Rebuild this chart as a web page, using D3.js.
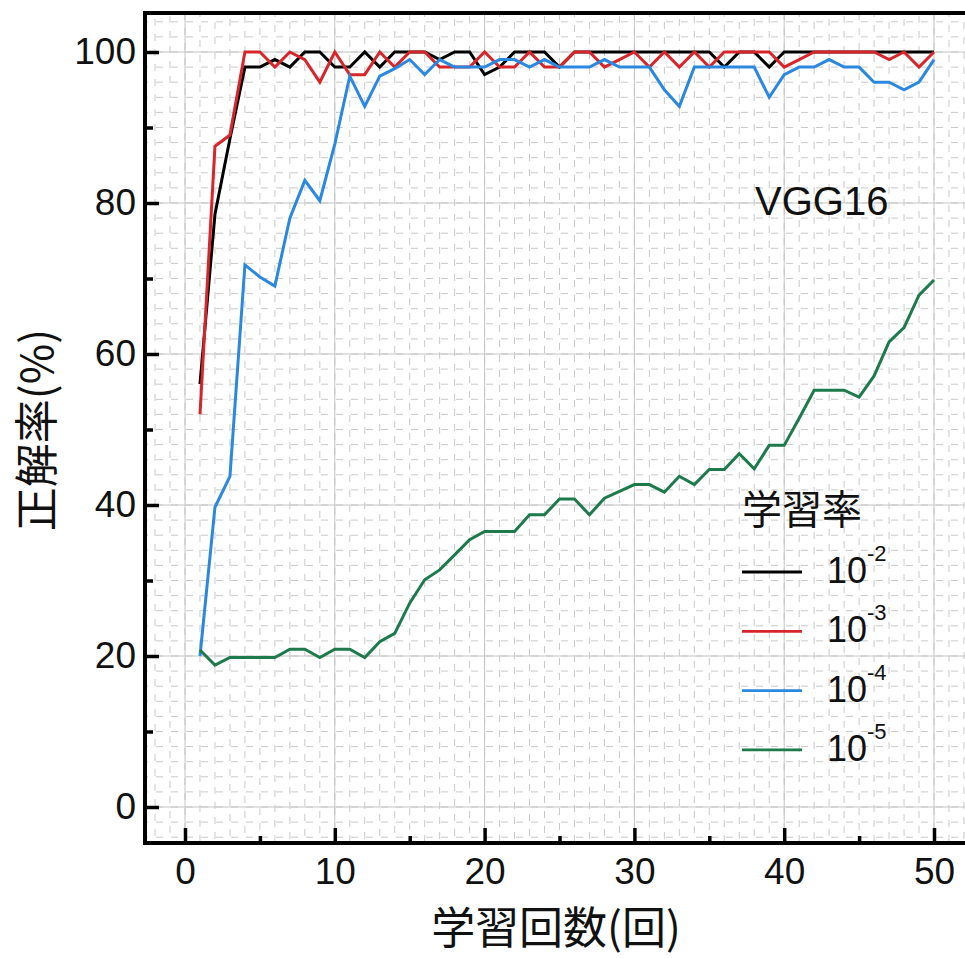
<!DOCTYPE html>
<html>
<head>
<meta charset="utf-8">
<script src="https://cdn.jsdelivr.net/npm/d3@7"></script>
<style>
  body { margin: 0; background: #fff; }
  svg { display: block; }
  .lat { font-family: "Liberation Sans", Arial, sans-serif; }
  .cjk { font-family: "Noto Sans CJK JP", "Noto Sans", sans-serif; }
</style>
</head>
<body>
<svg id="chart" width="965" height="958"></svg>
<script>
// epochs (学習回数)
const epochs = [1,2,3,4,5,6,7,8,9,10,11,12,13,14,15,16,17,18,19,20,21,22,23,24,25,
  26,27,28,29,30,31,32,33,34,35,36,37,38,39,40,41,42,43,44,45,46,47,48,49,50]

// accuracy (%) per learning rate
const lr2 = [56,78.5,88.5,98,98,99,98,100,100,98,98,100,98,100,100,100,99,100,100,97,
  98,100,100,100,98,100,100,100,100,100,100,100,100,100,100,98,100,100,98,100,
  100,100,100,100,100,100,100,100,100,100]
const lr3 = [52,87.5,89,100,100,98,100,99,96,100,97,97,100,98,100,100,98,98,98,100,
  98,98,100,98,98,100,100,98,99,100,98,100,98,100,98,100,100,100,100,98,
  99,100,100,100,100,100,99,100,98,100]
const lr4 = [20,39.7,43.8,71.8,70.2,69,78,83,80.3,87.8,96.8,92.8,96.8,97.8,99,97,99,98,98,98,
  99,99,98,99,98,98,98,99,98,98,98,95,92.8,98,98,98,98,98,94,97,
  98,98,99,98,98,96,96,95,96,99]
const lr5 = [20.8,18.8,19.8,19.8,19.8,19.8,20.9,20.9,19.8,20.9,20.9,19.8,21.9,23,27,30.1,31.4,33.4,35.4,36.5,
  36.5,36.5,38.7,38.7,40.8,40.8,38.7,40.9,41.8,42.7,42.7,41.7,43.8,42.7,44.7,44.7,46.8,44.8,47.9,47.9,
  51.5,55.2,55.2,55.2,54.3,57.1,61.6,63.5,67.8,69.8]

const seriesNames = ["-2", "-3", "-4", "-5"]
const seriesColors = ["#000000", "#d7262b", "#2b88e0", "#1d7a4b"]

const xTicks = [0, 10, 20, 30, 40, 50]
const xMinorTicks = [5, 15, 25, 35, 45]
const yTicks = [0, 20, 40, 60, 80, 100]
const yMinorTicks = [10, 30, 50, 70, 90]

const svg = d3.select("#chart")

// plot frame edges
const frameL = 145, frameT = 13, frameB = 843, frameR = 965

const x = d3.scaleLinear().domain([0, 50]).range([185, 934])
const y = d3.scaleLinear().domain([0, 100]).range([807, 52])

// dashed minor grid
const grid = svg.append("g")
grid.selectAll(".gx")
  .data(d3.range(-2, 53))
  .enter()
  .append("line")
  .attr("x1", (d) => x(d)).attr("x2", (d) => x(d))
  .attr("y1", frameT).attr("y2", frameB)
  .attr("stroke", "#c9c9c9")
  .attr("stroke-width", 1)
  .attr("stroke-dasharray", "7,8")
  .attr("stroke-dashoffset", (d) => (d * 3) % 15)
grid.selectAll(".gy")
  .data(d3.range(-4, 106, 2))
  .enter()
  .append("line")
  .attr("x1", frameL).attr("x2", frameR)
  .attr("y1", (d) => y(d)).attr("y2", (d) => y(d))
  .attr("stroke", "#c9c9c9")
  .attr("stroke-width", 1)
  .attr("stroke-dasharray", "7,8")
  .attr("stroke-dashoffset", 4)

// solid major grid
grid.selectAll(".mx")
  .data(xTicks)
  .enter()
  .append("line")
  .attr("x1", (d) => x(d)).attr("x2", (d) => x(d))
  .attr("y1", frameT).attr("y2", frameB)
  .attr("stroke", "#c4c4c4")
grid.selectAll(".my")
  .data(yTicks)
  .enter()
  .append("line")
  .attr("x1", frameL).attr("x2", frameR)
  .attr("y1", (d) => y(d)).attr("y2", (d) => y(d))
  .attr("stroke", "#c4c4c4")

// data lines
const line = d3.line()
  .x((d, i) => x(epochs[i]))
  .y((d) => y(d))

const allSeries = [lr2, lr3, lr4, lr5]
svg.append("g")
  .selectAll("path")
  .data(allSeries)
  .enter()
  .append("path")
  .attr("d", (d) => line(d))
  .attr("fill", "none")
  .attr("stroke", (d, i) => seriesColors[i])
  .attr("stroke-width", 3)
  .attr("stroke-linejoin", "miter")

// axes (ticks inward)
const yAxis = svg.append("g")
  .attr("transform", `translate(${frameL},0)`)
  .call(d3.axisLeft(y).tickValues(yTicks).tickSize(-14).tickPadding(9))
const yMinor = svg.append("g")
  .attr("transform", `translate(${frameL},0)`)
  .call(d3.axisLeft(y).tickValues(yMinorTicks).tickSize(-8).tickFormat(""))
const xAxis = svg.append("g")
  .attr("transform", `translate(0,${frameB})`)
  .call(d3.axisBottom(x).tickValues(xTicks).tickSize(-15).tickPadding(15))
const xMinor = svg.append("g")
  .attr("transform", `translate(0,${frameB})`)
  .call(d3.axisBottom(x).tickValues(xMinorTicks).tickSize(-7).tickFormat(""))

for (const g of [yAxis, yMinor, xAxis, xMinor]) {
  g.select(".domain").remove()
  g.selectAll(".tick line").attr("stroke", "#000").attr("stroke-width", 3.5)
  g.selectAll("text")
    .attr("class", "lat")
    .attr("font-size", 37)
    .attr("fill", "#111")
}

// frame
svg.append("path")
  .attr("d", `M${frameR},${frameT}H${frameL}V${frameB}H${frameR}`)
  .attr("fill", "none")
  .attr("stroke", "#000")
  .attr("stroke-width", 4)

// axis titles
svg.append("text")
  .attr("class", "cjk")
  .attr("x", 556).attr("y", 944)
  .attr("text-anchor", "middle")
  .attr("font-size", 44)
  .attr("fill", "#111")
  .text("学習回数(回)")

svg.append("text")
  .attr("class", "cjk")
  .attr("transform", "translate(53,430) rotate(-90)")
  .attr("text-anchor", "middle")
  .attr("font-size", 44)
  .attr("fill", "#111")
  .text("正解率(%)")

// model name
svg.append("text")
  .attr("class", "lat")
  .attr("x", 755).attr("y", 215)
  .attr("font-size", 40)
  .attr("fill", "#111")
  .text("VGG16")

// legend
const legend = svg.append("g")
legend.append("text")
  .attr("class", "cjk")
  .attr("x", 742).attr("y", 524)
  .attr("font-size", 40)
  .attr("fill", "#111")
  .text("学習率")

const rows = legend.selectAll(".row")
  .data(seriesNames)
  .enter()
  .append("g")
  .attr("transform", (d, i) => `translate(742,${572 + i * 59.3})`)
rows.append("line")
  .attr("x1", 0).attr("x2", 60)
  .attr("stroke", (d, i) => seriesColors[i])
  .attr("stroke-width", 2.8)
const lbl = rows.append("text")
  .attr("class", "lat")
  .attr("x", 85).attr("y", 11)
  .attr("font-size", 36)
  .attr("fill", "#111")
lbl.append("tspan").text("10")
lbl.append("tspan")
  .attr("dy", -22)
  .attr("font-size", 22)
  .text((d) => d)
</script>
</body>
</html>
